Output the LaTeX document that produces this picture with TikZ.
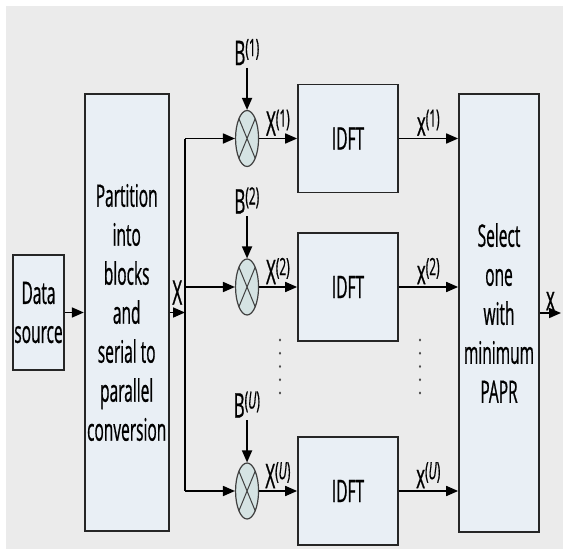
\documentclass[tikz,border=0pt]{standalone}
\usepackage{fontspec}
\setmainfont[FakeStretch=0.5, FakeBold=0.6]{Open Sans}
\usetikzlibrary{arrows.meta,positioning,shapes.geometric}
\definecolor{bgGray}{RGB}{235,235,235}
\definecolor{boxFill}{RGB}{233,239,245}
\definecolor{mulFill}{RGB}{213,227,227}

\begin{document}
\begin{tikzpicture}[
      x=1pt, y=-1pt,
      node distance=19pt,
      line width=1.7pt,
      box/.style={draw=black!85, fill=boxFill, align=center, inner sep=0pt, font=\fontsize{31}{39}\selectfont},
      mul/.style={ellipse, draw=black!75, line width=1.2pt, fill=mulFill, minimum width=23pt, minimum height=56pt, inner sep=0pt,
        path picture={\draw[line width=1pt, black!75] (path picture bounding box.north west) -- (path picture bounding box.south east)
          (path picture bounding box.north east) -- (path picture bounding box.south west);}},
      lbl/.style={font=\fontsize{34}{38}\selectfont, inner sep=2pt},
      >={Triangle[length=12pt,width=10pt]}
    ]
    \fill[white] (0,0) rectangle (563,549);
    \fill[bgGray] (6,6) rectangle (563,549);
    \useasboundingbox (0,0) rectangle (563,549);

    \node[box, minimum width=51pt, minimum height=115pt] (ds) at (38.5,312.5) {Data\\source};
    \node[box, right=of ds, minimum width=84pt, minimum height=437pt] (part) {Partition\\into\\blocks\\and\\serial to\\parallel\\conversion};
    \node[box, minimum width=80pt, minimum height=438pt] (sel) at (499,313) {Select\\one\\with\\minimum\\PAPR};
    \coordinate (bus) at (185,0);
    \coordinate (out) at (561,0);

    \foreach \k/\y in {1/138.5, 2/287, U/491} {
      \node[box, minimum width=100pt, minimum height=108pt] (id\k) at (348,\y) {IDFT};
      \node[mul, left=38pt of id\k] (m\k) {};
    }
    \foreach \k/\s in {1/1, 2/2, U/\textit{U}} {
      \node[lbl, above=42pt of m\k] (b\k) {B\textsuperscript{(\s)}};
      \draw[->] (b\k) -- (m\k);
      \draw[->] (m\k.west -| bus) -- (m\k);
      \draw[->] (m\k) -- node[lbl, above] (X\k) {X\textsuperscript{(\s)}} (id\k);
      \draw[->] (id\k) -- node[lbl, above] (x\k) {x\textsuperscript{(\s)}} (id\k.east -| sel.west);
    }

    \draw[->] (ds) -- (part);
    \draw[->] (part.east) -- node[lbl, above=5pt] (xin) {X} (part.east -| bus);
    \draw (m1.west -| bus) -- (mU.west -| bus);
    \draw[->] (sel.east) -- node[lbl, above] (xsel) {x} (sel.east -| out);

    % vertical dots between row 2 and row U
    \foreach \dx in {280,420}
      \foreach \dy in {340,353.25,...,394}
        \fill[black!70] (\dx,\dy) ellipse (1.1pt and 1.6pt);
  \end{tikzpicture}
\end{document}
